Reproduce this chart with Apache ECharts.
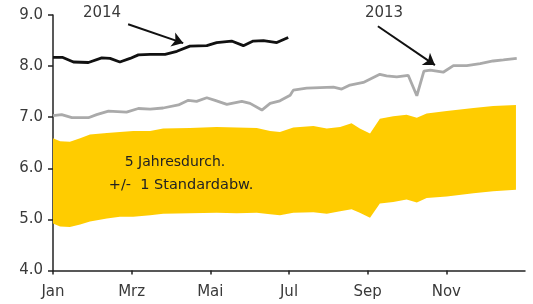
<!DOCTYPE html>
<html>
<head>
<meta charset="utf-8">
<script src="https://cdn.jsdelivr.net/npm/echarts@6/dist/echarts.min.js"></script>
<style>
  html, body { margin: 0; padding: 0; background: #fff; }
  #chart { width: 533px; height: 304px; }
</style>
</head>
<body>
<div id="chart"></div>
<script>
// x in months from 1 Jan (0 = Jan, 12 = end of Dec)
const monthLabels = ["Jan", "Mrz", "Mai", "Jul", "Sep", "Nov"];
const monthTicks = [0, 2, 4, 6, 8, 10];

// 5-year average +/- 1 standard deviation band
const bandX = [0, 0.18, 0.43, 0.69, 0.94, 1.37, 1.7, 2.04, 2.47, 2.8, 3.48, 4.16, 4.67, 5.18, 5.52, 5.77,
  6.11, 6.62, 6.96, 7.3, 7.59, 7.8, 8.06, 8.31, 8.65, 8.99, 9.25, 9.5, 10.01, 10.69, 11.19, 11.77];
const bandUpper = [6.59, 6.53, 6.52, 6.59, 6.66, 6.69, 6.71, 6.73, 6.73, 6.78, 6.79, 6.81, 6.8, 6.79, 6.73, 6.71,
  6.8, 6.83, 6.78, 6.81, 6.88, 6.78, 6.68, 6.97, 7.02, 7.05, 6.99, 7.07, 7.12, 7.18, 7.22, 7.24];
const bandLower = [4.92, 4.86, 4.85, 4.9, 4.96, 5.02, 5.05, 5.05, 5.08, 5.11, 5.12, 5.13, 5.12, 5.13, 5.1, 5.08,
  5.13, 5.14, 5.11, 5.16, 5.2, 5.13, 5.03, 5.31, 5.34, 5.39, 5.33, 5.42, 5.45, 5.51, 5.55, 5.58];

// 2013
const x2013 = [0, 0.22, 0.48, 0.9, 1.11, 1.41, 1.87, 2.17, 2.47, 2.8, 3.19, 3.44, 3.65, 3.91, 4.12, 4.42,
  4.8, 5.01, 5.31, 5.52, 5.77, 6.03, 6.11, 6.45, 6.79, 7.13, 7.34, 7.55, 7.89, 8.31, 8.48, 8.74, 9.03,
  9.25, 9.43, 9.59, 9.92, 10.18, 10.52, 10.86, 11.19, 11.45, 11.79];
const y2013 = [7.03, 7.05, 6.99, 6.99, 7.05, 7.12, 7.1, 7.17, 7.16, 7.18, 7.24, 7.33, 7.31, 7.38, 7.33, 7.25,
  7.31, 7.27, 7.14, 7.27, 7.32, 7.43, 7.53, 7.57, 7.58, 7.59, 7.55, 7.63, 7.68, 7.84, 7.81, 7.79, 7.82,
  7.42, 7.9, 7.92, 7.88, 8.01, 8.01, 8.05, 8.1, 8.12, 8.15];

// 2014
const x2014 = [0, 0.25, 0.52, 0.9, 1.24, 1.45, 1.7, 1.96, 2.17, 2.47, 2.85, 3.15, 3.48, 3.91, 4.16,
  4.54, 4.84, 5.09, 5.35, 5.69, 5.98];
const y2014 = [8.17, 8.17, 8.08, 8.07, 8.16, 8.15, 8.08, 8.15, 8.22, 8.23, 8.23, 8.29, 8.39, 8.4, 8.46,
  8.49, 8.4, 8.49, 8.5, 8.46, 8.56];

const zip = (xs, ys) => xs.map((x, i) => [x, ys[i]]);
const font = "'DejaVu Sans', Arial, sans-serif";

const chart = echarts.init(document.getElementById("chart"), null, { renderer: "canvas" });

// band drawn as one polygon: upper edge left->right, lower edge right->left
function renderBand(params, api) {
  if (params.dataIndex !== 0) return;
  const top = bandX.map((x, i) => api.coord([x, bandUpper[i]]));
  const bottom = bandX.map((x, i) => api.coord([x, bandLower[i]])).reverse();
  return {
    type: "polygon",
    shape: { points: top.concat(bottom) },
    style: { fill: "#FFCC00" },
  };
}

const arrowLine = (from, to) => ({
  silent: true,
  symbol: ["none", "arrow"],
  symbolSize: 11,
  lineStyle: { color: "#111", width: 2, type: "solid" },
  label: { show: false },
  data: [[{ coord: from }, { coord: to }]],
});

const option = {
  animation: false,
  textStyle: { fontFamily: font },
  grid: { left: 53, right: 8, top: 15, bottom: 33.5 },
  xAxis: {
    type: "value",
    min: 0,
    max: 12,
    interval: 2,
    splitLine: { show: false },
    axisLine: { lineStyle: { color: "#222", width: 1.5 } },
    axisTick: { show: true, customValues: monthTicks, length: 4, lineStyle: { color: "#222", width: 1.5 } },
    axisLabel: {
      customValues: monthTicks,
      color: "#3a3a3a",
      fontSize: 15,
      fontFamily: font,
      margin: 14,
      formatter: (v) => monthLabels[monthTicks.indexOf(v)] || "",
    },
  },
  yAxis: {
    type: "value",
    min: 4,
    max: 9,
    interval: 1,
    splitLine: { show: false },
    axisLine: { show: true, lineStyle: { color: "#222", width: 1.5 } },
    axisTick: { show: true, length: 5, lineStyle: { color: "#222", width: 1.5 } },
    axisLabel: { color: "#3a3a3a", fontSize: 15, fontFamily: font, margin: 10, formatter: (v) => v.toFixed(1) },
  },
  series: [
    {
      name: "band",
      type: "custom",
      renderItem: renderBand,
      data: zip(bandX, bandUpper),
      silent: true,
      z: 1,
    },
    {
      name: "2013",
      type: "line",
      data: zip(x2013, y2013),
      symbol: "none",
      lineStyle: { color: "#AAAAAA", width: 2.8 },
      z: 3,
      markLine: arrowLine([8.26, 8.78], [9.71, 8.02]),
    },
    {
      name: "2014",
      type: "line",
      data: zip(x2014, y2014),
      symbol: "none",
      lineStyle: { color: "#111", width: 2.8 },
      z: 3,
      markLine: arrowLine([1.91, 8.82], [3.31, 8.45]),
    },
  ],
  graphic: [
    { type: "text", x: 102, y: 13, style: { text: "2014", fill: "#3a3a3a", font: "15px " + font, align: "center", verticalAlign: "middle" } },
    { type: "text", x: 384, y: 13, style: { text: "2013", fill: "#3a3a3a", font: "15px " + font, align: "center", verticalAlign: "middle" } },
    {
      type: "text", x: 175, y: 162, z: 10,
      style: { text: "5 Jahresdurch.", fill: "#222", font: "14px " + font, align: "center", verticalAlign: "middle" },
    },
    {
      type: "text", x: 181, y: 185, z: 10,
      style: { text: "+/-  1 Standardabw.", fill: "#222", font: "14.5px " + font, align: "center", verticalAlign: "middle" },
    },
  ],
};

chart.setOption(option);
</script>
</body>
</html>
